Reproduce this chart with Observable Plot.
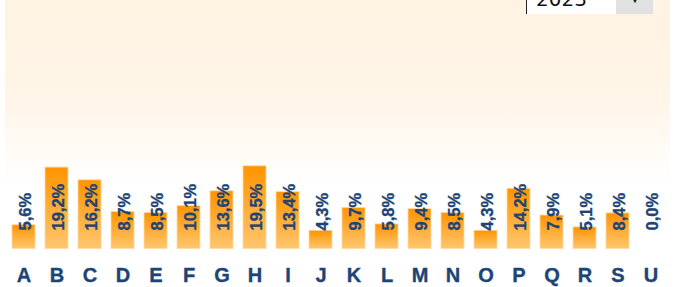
<!DOCTYPE html>
<html>
<head>
<meta charset="utf-8">
<script src="https://cdn.jsdelivr.net/npm/d3@7"></script>
<script src="https://cdn.jsdelivr.net/npm/@observablehq/plot@0.6"></script>
<style>
  html, body { margin: 0; padding: 0; background: #fff; }
  #wrap { position: relative; width: 674px; height: 287px; overflow: hidden; font-family: "Liberation Sans", Arial, sans-serif; }
  #bg { position: absolute; left: 5px; top: 0; width: 665px; height: 184px; background: linear-gradient(#fff3e2 0%, #fff5e8 55%, #ffffff 100%); }
  #chart { position: absolute; left: 0; top: 0; }
  #chart text { stroke: #1c4476; stroke-width: 0.35px; }
  #select { position: absolute; left: 526px; top: -10px; width: 125px; height: 24px; background: #fff; border-left: 1px solid #222; }
  #select .val { position: absolute; left: 9px; top: -1.5px; font-size: 20px; line-height: 20px; color: #111; font-family: "DejaVu Sans", sans-serif; }
  #select .btn { position: absolute; left: 89px; top: 0; width: 37px; height: 24px; background: #e1e1e1; }
  #select .btn span { position: absolute; left: 14px; top: 5px; font-size: 10px; line-height: 10px; color: #111; }
</style>
</head>
<body>
<div id="wrap">
  <div id="bg"></div>
  <div id="chart"></div>
  <div id="select"><span class="val">2023</span><div class="btn"><span>▼</span></div></div>
</div>
<script>
const categories = ["A","B","C","D","E","F","G","H","I","J","K","L","M","N","O","P","Q","R","S","U"];
const values = [5.6, 19.2, 16.2, 8.7, 8.5, 10.1, 13.6, 19.5, 13.4, 4.3, 9.7, 5.8, 9.4, 8.5, 4.3, 14.2, 7.9, 5.1, 8.4, 0.0];

const data = categories.map((c, i) => ({cat: c, value: values[i]}));
const fmt = v => v.toFixed(1).replace(".", ",") + "%";
const blue = "#1c4476";

const defs = () => {
  const ns = "http://www.w3.org/2000/svg";
  const d = document.createElementNS(ns, "defs");
  const g = document.createElementNS(ns, "linearGradient");
  g.setAttribute("id", "barGrad");
  g.setAttribute("x1", "0"); g.setAttribute("y1", "0");
  g.setAttribute("x2", "0"); g.setAttribute("y2", "1");
  [["0%", "#ff9400"], ["100%", "#ffc66e"]].forEach(([o, c]) => {
    const s = document.createElementNS(ns, "stop");
    s.setAttribute("offset", o); s.setAttribute("stop-color", c);
    g.appendChild(s);
  });
  d.appendChild(g);
  return d;
};

const chart = Plot.plot({
  width: 674,
  height: 287,
  marginLeft: 0,
  marginRight: 0,
  marginTop: 0,
  marginBottom: 20,
  style: {background: "transparent", fontFamily: "Liberation Sans, Arial, sans-serif"},
  x: {domain: categories, range: [0, 674], padding: 0.3},
  y: {domain: [0, 20], range: [248.5, 163.7], axis: null},
  marks: [
    defs,
    Plot.barY(data, {x: "cat", y: "value", fill: "url(#barGrad)", stroke: "#ffd9a3", strokeWidth: 0.8}),
    Plot.text(data, {x: "cat", y: () => 0, text: d => fmt(d.value), rotate: -90, textAnchor: "start", dy: -18.5, dx: 1.5, fontSize: 16.5, fontWeight: "bold", fill: blue}),
    Plot.axisX({tickSize: 0, tickPadding: 0, fontSize: 20, fontWeight: "bold", fill: blue, label: null})
  ]
});
document.getElementById("chart").appendChild(chart);
</script>
</body>
</html>
